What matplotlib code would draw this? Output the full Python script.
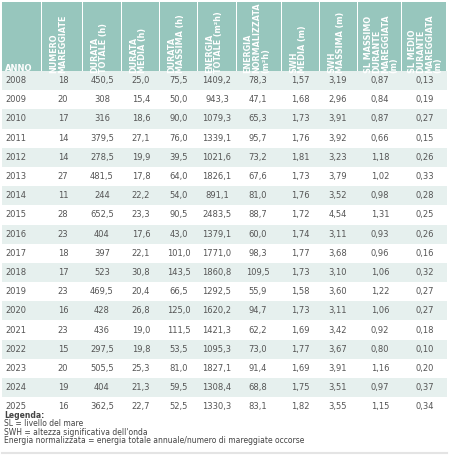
import matplotlib
matplotlib.use("Agg")
import matplotlib.pyplot as plt
from matplotlib.patches import Rectangle

headers = ["ANNO", "NUMERO\nMAREGGIATE", "DURATA\nTOTALE (h)", "DURATA\nMEDIA (h)", "DURATA\nMASSIMA (h)",
           "ENERGIA\nTOTALE (m²h)", "ENERGIA\nNORMALIZZATA\n(m²h)", "SWH\nMEDIA (m)", "SWH\nMASSIMA (m)",
           "SL MASSIMO\nDURANTE\nMAREGGIATA\n(m)", "SL MEDIO\nDURANTE\nMAREGGIATA\n(m)"]
anni = ["2008","2009","2010","2011","2012","2013","2014","2015","2016","2017","2018","2019","2020","2021","2022","2023","2024","2025"]
numero = ["18","20","17","14","14","27","11","28","23","18","17","23","16","23","15","20","19","16"]
durata_tot = ["450,5","308","316","379,5","278,5","481,5","244","652,5","404","397","523","469,5","428","436","297,5","505,5","404","362,5"]
durata_media = ["25,0","15,4","18,6","27,1","19,9","17,8","22,2","23,3","17,6","22,1","30,8","20,4","26,8","19,0","19,8","25,3","21,3","22,7"]
durata_max = ["75,5","50,0","90,0","76,0","39,5","64,0","54,0","90,5","43,0","101,0","143,5","66,5","125,0","111,5","53,5","81,0","59,5","52,5"]
energia_tot = ["1409,2","943,3","1079,3","1339,1","1021,6","1826,1","891,1","2483,5","1379,1","1771,0","1860,8","1292,5","1620,2","1421,3","1095,3","1827,1","1308,4","1330,3"]
energia_norm = ["78,3","47,1","65,3","95,7","73,2","67,6","81,0","88,7","60,0","98,3","109,5","55,9","94,7","62,2","73,0","91,4","68,8","83,1"]
swh_media = ["1,57","1,68","1,73","1,76","1,81","1,73","1,76","1,72","1,74","1,77","1,73","1,58","1,73","1,69","1,77","1,69","1,75","1,82"]
swh_max = ["3,19","2,96","3,91","3,92","3,23","3,79","3,52","4,54","3,11","3,68","3,10","3,60","3,11","3,42","3,67","3,91","3,51","3,55"]
sl_max = ["0,87","0,84","0,87","0,66","1,18","1,02","0,98","1,31","0,93","0,96","1,06","1,22","1,06","0,92","0,80","1,16","0,97","1,15"]
sl_medio = ["0,13","0,19","0,27","0,15","0,26","0,33","0,28","0,25","0,26","0,16","0,32","0,27","0,27","0,18","0,10","0,20","0,37","0,34"]
legenda = ["Legenda:", "SL = livello del mare", "SWH = altezza significativa dell'onda",
           "Energia normalizzata = energia totale annuale/numero di mareggiate occorse"]

cols = [anni, numero, durata_tot, durata_media, durata_max, energia_tot, energia_norm, swh_media, swh_max, sl_max, sl_medio]
edges = [2, 42, 83, 122, 160, 198, 237, 282, 320, 358, 402, 447]
centers = [5, 63, 102, 141, 179, 217, 258, 300, 338, 380, 425]

fig = plt.figure(figsize=(4.5, 4.57), dpi=100)
ax = fig.add_axes([0, 0, 1, 1])
ax.set_xlim(0, 450); ax.set_ylim(457, 0); ax.axis("off")

head_c = "#97c6bd"
for i in range(11):
    ax.add_patch(Rectangle((edges[i], 2), edges[i+1]-edges[i]-1, 74, color=head_c, lw=0))
    if i == 0:
        ax.text(5, 73, headers[0], color="white", fontsize=6, fontweight="bold", va="bottom", ha="left")
    else:
        n = headers[i].count("\n") + 1
        ax.text(edges[i] + 9 + n*3.6, 73, headers[i], color="white", fontsize=5.8, fontweight="bold",
                rotation=90, va="bottom", ha="center", multialignment="left", linespacing=0.95)

y0, dh = 80.5, 19.2
for r in range(len(anni)):
    y = y0 + r*dh
    if r % 2 == 0:
        ax.add_patch(Rectangle((2, y-dh/2), 445, dh, color="#e6f0ee", lw=0))
    for i, col in enumerate(cols):
        ax.text(centers[i], y, col[r], fontsize=6, color="#555555", va="center",
                ha="left" if i == 0 else "center")

for k, line in enumerate(legenda):
    ax.text(4, 415 + k*8.6, line, fontsize=5.5, color="#444444", va="center",
            fontweight="bold" if k == 0 else "normal")
ax.plot([2, 447], [453, 453], color="#e4e4e4", lw=1.5)

fig.savefig("out.png", dpi=100, facecolor="white")
